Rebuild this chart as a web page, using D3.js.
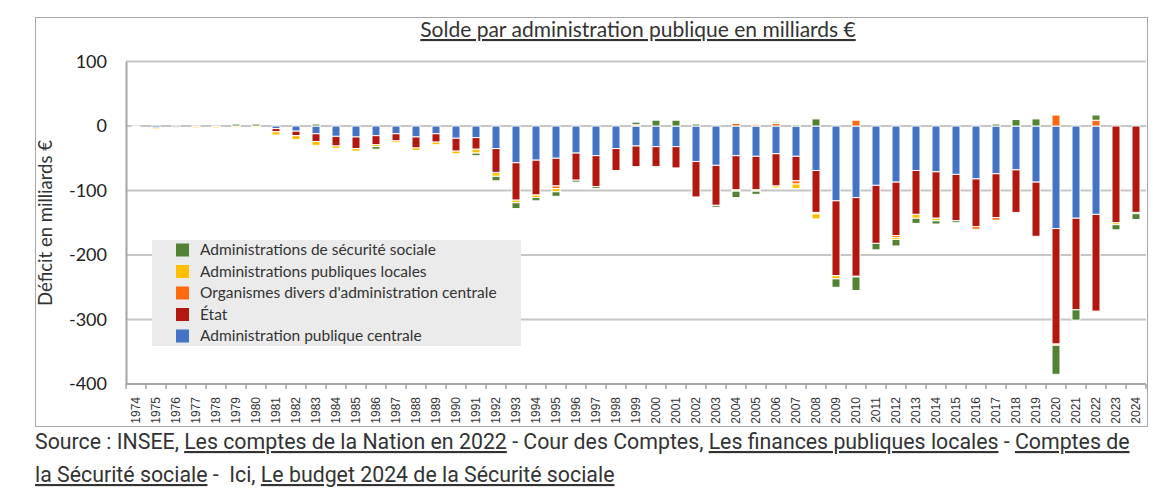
<!DOCTYPE html>
<html>
<head>
<meta charset="utf-8">
<script src="https://cdn.jsdelivr.net/npm/d3@7"></script>
<style>
  html, body { margin: 0; padding: 0; background: #fff; }
  svg { display: block; }
</style>
</head>
<body>
<svg id="chart" width="1156" height="494"></svg>
<script>
const years = d3.range(1974, 2025).map(String);

// Administration publique centrale (blue)
const apuc = [0,-3,-2,-1,-1,0,0,-4,-8,-12,-16,-17,-15,-12,-17,-12,-19,-18,-35,-57,-53,-50,-42,-46,-35,-31,-32,-32,-55,-61,-46,-47,-43,-47,-69,-116,-111,-92,-87,-69,-71,-75,-82,-74,-68,-87,-159,-143,-137,0,0];
// État (red)
const etat = [0,0,0,0,0,0,0,-5,-7,-12,-15,-18,-14,-11,-17,-13,-20,-18,-37,-58,-54,-43,-42,-48,-34,-32,-31,-33,-55,-62,-53,-52,-50,-38,-65,-116,-122,-90,-83,-68,-72,-72,-74,-68,-66,-84,-179,-142,-150,-150,-134];
// Organismes divers d'administration centrale (orange)
const odac = [0,0,0,0,0,0,0,0,0,0,0,0,0,0,0,0,0,0,0,0,0,-4,0,0,0,0,0,0,0,0,4,2,4,-5,-2,0,9,0,-3,0,0,0,-4,-4,0,0,17,0,9,0,0];
// Administrations publiques locales (yellow)
const apul = [-1,-2,-2,-2,-2,-2,-2,-5,-6,-6,-4,-4,-3,-3,-4,-4,-4,-6,-6,-4,-4,-5,0,0,0,2,0,0,0,0,-2,-2,-3,-7,-8,-5,-1,0,-3,-6,-4,0,0,0,0,0,-2,0,0,-3,-2];
// Administrations de sécurité sociale (green)
const asso = [0,0,0,0,0,3,3,0,0,3,0,0,-4,0,0,0,0,-4,-7,-9,-5,-7,-3,-3,0,4,9,9,3,-3,-10,-5,2,2,11,-13,-21,-10,-10,-8,-5,-3,0,3,10,11,-45,-16,8,-8,-9];

const seriesKeys = ["apuc", "etat", "odac", "apul", "asso"];
const seriesNames = {
  asso: "Administrations de sécurité sociale",
  apul: "Administrations publiques locales",
  odac: "Organismes divers d'administration centrale",
  etat: "État",
  apuc: "Administration publique centrale"
};
const colors = { apuc: "#4472c4", etat: "#b2180f", odac: "#ff6a10", apul: "#ffc000", asso: "#548235" };
const legendOrder = ["asso", "apul", "odac", "etat", "apuc"];
const yTicks = [100, 0, -100, -200, -300, -400];

const table = years.map((y, i) => ({ year: y, apuc: apuc[i], etat: etat[i], odac: odac[i], apul: apul[i], asso: asso[i] }));

const svg = d3.select("#chart");
svg.append("rect").attr("width", 1156).attr("height", 494).attr("fill", "#fff");

// outer frame
svg.append("rect").attr("x", 35.5).attr("y", 17.5).attr("width", 1112).attr("height", 409)
  .attr("fill", "none").attr("stroke", "#a6a6a6").attr("stroke-width", 1);

const x = d3.scaleBand().domain(years).range([126, 1146]).paddingInner(0.6).paddingOuter(0.3);
const y = d3.scaleLinear().domain([-400, 100]).range([384, 61.5]);

// gridlines
svg.append("g").selectAll("line").data(yTicks.filter(t => t !== -400)).join("line")
  .attr("x1", 126).attr("x2", 1146)
  .attr("y1", d => y(d)).attr("y2", d => y(d))
  .attr("stroke", "#c6c6c6").attr("stroke-width", 2);

// y axis
const yAxis = svg.append("g").attr("transform", "translate(126,0)")
  .call(d3.axisLeft(y).tickValues(yTicks).tickSize(0).tickPadding(19).tickFormat(d => String(d)));
yAxis.select(".domain").attr("stroke", "#a6a6a6").attr("stroke-width", 2);
yAxis.selectAll("text").attr("font-family", "Lato, 'Noto Sans', sans-serif").attr("font-size", 18).attr("fill", "#222");

// stacked bars
const stack = d3.stack().keys(seriesKeys).offset(d3.stackOffsetDiverging);
const stacked = stack(table);
svg.append("g").selectAll("g").data(stacked).join("g")
  .attr("fill", d => colors[d.key])
  .selectAll("rect").data(d => d.filter(p => p[0] !== p[1])).join("rect")
  .attr("x", d => x(d.data.year))
  .attr("width", x.bandwidth())
  .attr("y", d => y(Math.max(d[0], d[1])))
  .attr("height", d => Math.abs(y(d[0]) - y(d[1])))
  .attr("stroke", "#fff").attr("stroke-width", 1);

// x axis at -400
const xAxis = svg.append("g").attr("transform", `translate(0,${y(-400)})`);
xAxis.append("line").attr("x1", 126).attr("x2", 1146).attr("stroke", "#a6a6a6").attr("stroke-width", 2);
const step = x.step();
xAxis.selectAll("line.tk").data(d3.range(years.length + 1)).join("line").attr("class", "tk")
  .attr("x1", i => 126 + i * step).attr("x2", i => 126 + i * step)
  .attr("y1", 0).attr("y2", 5).attr("stroke", "#a6a6a6").attr("stroke-width", 1.5);
xAxis.selectAll("text").data(years).join("text")
  .attr("transform", d => `translate(${x(d) + x.bandwidth() / 2 + 4},13) rotate(-90)`)
  .attr("text-anchor", "end")
  .attr("font-family", "'Liberation Sans', Arial, sans-serif")
  .attr("font-size", 12).attr("fill", "#333")
  .text(d => d);

// title
svg.append("text").attr("x", 638).attr("y", 37).attr("text-anchor", "middle")
  .attr("font-family", "Lato, 'Noto Sans', sans-serif").attr("font-size", 21).attr("fill", "#333")
  .attr("text-decoration", "underline")
  .text("Solde par administration publique en milliards €");

// y label
svg.append("text").attr("transform", "translate(52,223) rotate(-90)").attr("text-anchor", "middle")
  .attr("font-family", "Lato, 'Noto Sans', sans-serif").attr("font-size", 18.5).attr("fill", "#333")
  .text("Déficit en milliards €");

// legend
const lg = svg.append("g");
lg.append("rect").attr("x", 152).attr("y", 240).attr("width", 369).attr("height", 106).attr("fill", "#ebebeb");
const li = lg.selectAll("g.it").data(legendOrder).join("g").attr("class", "it")
  .attr("transform", (d, i) => `translate(176,${250 + i * 21.5})`);
li.append("rect").attr("x", 0).attr("y", -6.5).attr("width", 13).attr("height", 13).attr("fill", d => colors[d]);
li.append("text").attr("x", 24).attr("y", 0).attr("dy", "0.35em")
  .attr("font-family", "Lato, 'Noto Sans', sans-serif").attr("font-size", 15.5).attr("fill", "#333")
  .text(d => seriesNames[d]);

// source text
const src1 = [
  ["Source : INSEE, ", false], ["Les comptes de la Nation en 2022", true], [" - Cour des Comptes, ", false],
  ["Les finances publiques locales", true], [" - ", false], ["Comptes de", true]
];
const src2 = [
  ["la Sécurité sociale", true], [" -  Ici, ", false], ["Le budget 2024 de la Sécurité sociale", true]
];
function srcLine(parts, yy) {
  const t = svg.append("text").attr("x", 35).attr("y", yy)
    .attr("font-family", "Roboto, 'Noto Sans', sans-serif").attr("font-size", 18).attr("fill", "#333")
    .attr("xml:space", "preserve").style("white-space", "pre");
  parts.forEach(([s, u]) => {
    const ts = t.append("tspan").text(s);
    if (u) ts.attr("text-decoration", "underline");
  });
  return t;
}
const l1 = srcLine(src1, 449);
const l2 = srcLine(src2, 482);
const w1 = l1.node().getComputedTextLength();
const fs = 18 * 1095 / w1;
l1.attr("font-size", fs);
l2.attr("font-size", fs);
</script>
</body>
</html>
